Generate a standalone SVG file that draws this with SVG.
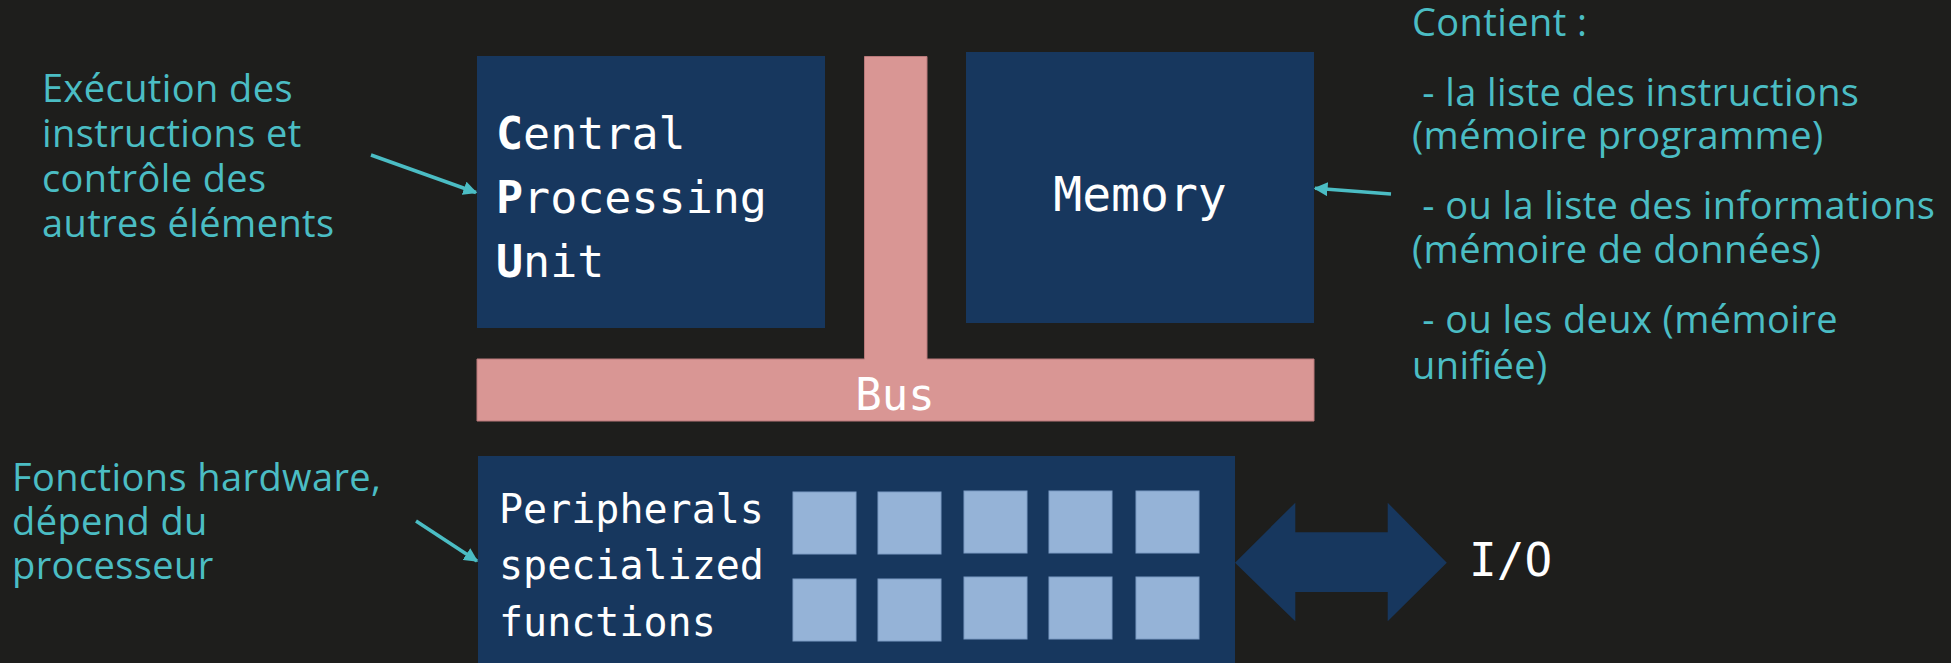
<svg xmlns="http://www.w3.org/2000/svg" width="1951" height="663" viewBox="0 0 1951 663">
  <style>
    .note { font-family: "Open Sans", "Noto Sans", sans-serif; font-size: 38px; letter-spacing: 0.4px; fill: #4bbdc4; }
    .mono { font-family: "DejaVu Sans Mono", "Liberation Mono", monospace; fill: #ffffff; }
    .block { fill: #17375e; }
    .cell { fill: #95b3d7; stroke: #7d9cc4; stroke-width: 1; }
    .link { stroke: #4bbdc4; stroke-width: 3.5; fill: none; marker-end: url(#tip); }
  </style>
  <defs>
    <marker id="tip" viewBox="0 0 10 10" refX="9" refY="5" markerWidth="4" markerHeight="4" orient="auto" markerUnits="strokeWidth">
      <path d="M0,0 L10,5 L0,10 Z" fill="#4bbdc4"/>
    </marker>
  </defs>

  <rect x="0" y="0" width="1951" height="663" fill="#1e1e1c"/>

  <!-- CPU -->
  <g id="cpu">
    <rect class="block" x="477" y="56" width="348" height="272"/>
    <text class="mono" font-size="45" x="496" y="149"><tspan font-weight="bold">C</tspan>entral</text>
    <text class="mono" font-size="45" x="496" y="213"><tspan font-weight="bold">P</tspan>rocessing</text>
    <text class="mono" font-size="45" x="496" y="277"><tspan font-weight="bold">U</tspan>nit</text>
  </g>

  <!-- Memory -->
  <g id="memory">
    <rect class="block" x="966" y="52" width="348" height="271"/>
    <text class="mono" font-size="48" x="1140" y="211" text-anchor="middle">Memory</text>
  </g>

  <!-- Bus (T-shaped) -->
  <g id="bus">
    <path d="M864.5,56.5 H927 V359 H1314 V421 H477 V359 H864.5 Z" fill="#d99694" stroke="#b9797a" stroke-width="1"/>
    <text class="mono" font-size="44" x="895" y="410" text-anchor="middle">Bus</text>
  </g>

  <!-- Peripherals -->
  <g id="peripherals">
    <rect class="block" x="478" y="456" width="757" height="210"/>
    <text class="mono" font-size="40" x="499" y="523">Peripherals</text>
    <text class="mono" font-size="40" x="499" y="579">specialized</text>
    <text class="mono" font-size="40" x="499" y="636">functions</text>
    <rect class="cell" x="793" y="492" width="63" height="62"/>
    <rect class="cell" x="878" y="492" width="63" height="62"/>
    <rect class="cell" x="964" y="491" width="63" height="62"/>
    <rect class="cell" x="1049" y="491" width="63" height="62"/>
    <rect class="cell" x="1136" y="491" width="63" height="62"/>
    <rect class="cell" x="793" y="579" width="63" height="62"/>
    <rect class="cell" x="878" y="579" width="63" height="62"/>
    <rect class="cell" x="964" y="577" width="63" height="62"/>
    <rect class="cell" x="1049" y="577" width="63" height="62"/>
    <rect class="cell" x="1136" y="577" width="63" height="62"/>
  </g>

  <!-- I/O -->
  <g id="io">
    <polygon class="block" points="1235,562.7 1295.3,502.7 1295.3,532.3 1387.7,532.3 1387.7,502.7 1446.8,562.7 1387.7,621.3 1387.7,592 1295.3,592 1295.3,621.3"/>
    <text class="mono" font-size="46" x="1469" y="576">I/O</text>
  </g>

  <!-- Annotations -->
  <g id="note-cpu">
    <text class="note" x="42" y="102">Exécution des</text>
    <text class="note" x="42" y="147">instructions et</text>
    <text class="note" x="42" y="192">contrôle des</text>
    <text class="note" x="42" y="237">autres éléments</text>
  </g>
  <g id="note-memory">
    <text class="note" x="1412" y="36">Contient :</text>
    <text class="note" x="1412" y="106" xml:space="preserve"> - la liste des instructions</text>
    <text class="note" x="1412" y="149">(mémoire programme)</text>
    <text class="note" x="1412" y="219" xml:space="preserve"> - ou la liste des informations</text>
    <text class="note" x="1412" y="263">(mémoire de données)</text>
    <text class="note" x="1412" y="333" xml:space="preserve"> - ou les deux (mémoire</text>
    <text class="note" x="1412" y="379">unifiée)</text>
  </g>
  <g id="note-peripherals">
    <text class="note" x="12" y="491">Fonctions hardware,</text>
    <text class="note" x="12" y="535">dépend du</text>
    <text class="note" x="12" y="579">processeur</text>
  </g>

  <!-- Connectors -->
  <g id="connectors">
    <line class="link" x1="371" y1="155" x2="476" y2="192.5"/>
    <line class="link" x1="1391" y1="194" x2="1315" y2="188.3"/>
    <line class="link" x1="416" y1="521" x2="477" y2="561"/>
  </g>
</svg>
